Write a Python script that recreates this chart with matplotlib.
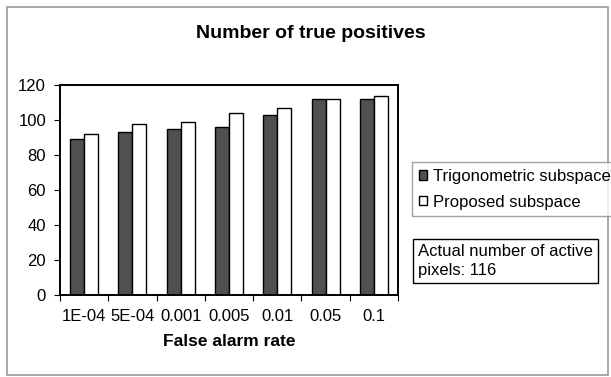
import matplotlib
matplotlib.use("Agg")
import matplotlib.pyplot as plt
import numpy as np
from matplotlib.patches import Patch, Rectangle

rates = ["1E-04", "5E-04", "0.001", "0.005", "0.01", "0.05", "0.1"]
trig_subspace = [89, 93, 95, 96, 103, 112, 112]
proposed_subspace = [92, 98, 99, 104, 107, 112, 114]
active_pixels = 116

plt.rcParams["font.family"] = ["Liberation Sans", "DejaVu Sans"]

W, H = 611, 377
fig = plt.figure(figsize=(W / 100, H / 100), dpi=100)

# grey outer frame
fig.patches.append(Rectangle((7 / W, 2 / H), 601 / W, 368 / H, transform=fig.transFigure,
                             fill=False, edgecolor="#9a9a9a", linewidth=1.2))

ax = fig.add_axes([60 / W, 82 / H, 338 / W, 210 / H])
x = np.arange(len(rates))
w = 0.29
ax.bar(x - w / 2, trig_subspace, w, color="#505050", edgecolor="black", linewidth=1.0)
ax.bar(x + w / 2, proposed_subspace, w, color="white", edgecolor="black", linewidth=1.0)

ax.set_xlim(-0.5, len(rates) - 0.5)
ax.set_ylim(0, 120)
ax.set_yticks(range(0, 121, 20))
ax.set_xticks(x)
ax.set_xticklabels(rates, fontsize=12)
ax.set_xticks(np.arange(-0.5, len(rates), 1.0), minor=True)
ax.tick_params(axis="x", which="major", length=0, pad=10)
ax.tick_params(axis="x", which="minor", length=4, width=0.8, direction="out")
ax.tick_params(axis="y", length=4, width=0.8, labelsize=12, pad=6)
for s in ax.spines.values():
    s.set_linewidth(1.4)

# chart title is centred on the whole figure, not the plot area
fig.text(311 / W, 1 - 34 / H, "Number of true positives", fontsize=14,
         fontweight="bold", ha="center", va="center")
ax.set_xlabel("False alarm rate", fontsize=12.5, fontweight="bold", labelpad=7)

handles = [Patch(facecolor="#505050", edgecolor="black", label="Trigonometric subspace"),
           Patch(facecolor="white", edgecolor="black", label="Proposed subspace")]
leg = fig.legend(handles=handles, loc="upper left", bbox_to_anchor=(412 / W, 1 - 162 / H),
                 fontsize=12, frameon=True, fancybox=False, handlelength=0.5, handleheight=0.5,
                 handletextpad=0.35, borderpad=0.4, labelspacing=0.65, borderaxespad=0)
leg.get_frame().set_edgecolor("#8a8a8a")
leg.get_frame().set_linewidth(1.0)

fig.text(418 / W, 1 - 261 / H, "Actual number of active\npixels: %d" % active_pixels,
         fontsize=12, ha="left", va="center", linespacing=1.35,
         bbox=dict(boxstyle="square,pad=0.32", facecolor="white", edgecolor="black", linewidth=1.0))

fig.savefig("out.png", dpi=100)
